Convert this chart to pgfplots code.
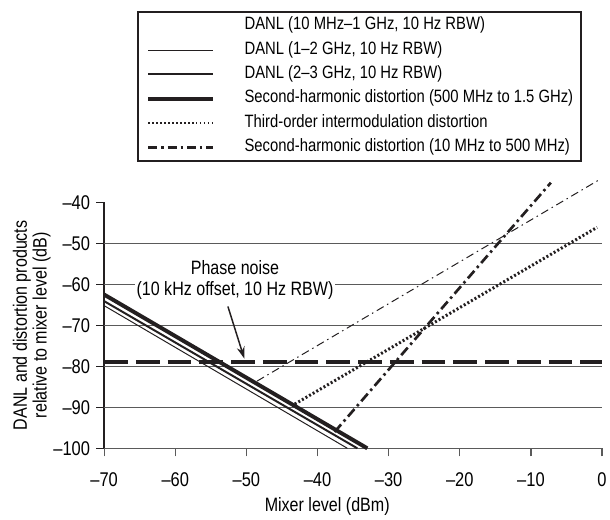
\documentclass[border=0pt]{standalone}
\usepackage{fontspec}
\setmainfont{Liberation Sans}[FakeStretch=0.83]
\usepackage{pgfplots}
\pgfplotsset{compat=1.18}
\usetikzlibrary{arrows.meta}
\definecolor{ink}{HTML}{231F20}
\definecolor{gridc}{HTML}{5A5A5A}
\begin{document}
\fontsize{18bp}{21bp}\selectfont
\begin{tikzpicture}[font=\fontsize{18bp}{21bp}\selectfont]
\useasboundingbox (-105bp,-72bp) rectangle (510bp,452bp);
\begin{axis}[
  scale only axis, width=502bp, height=248bp,
  xmin=-70, xmax=0, ymin=-100, ymax=-40,
  clip=false,
  axis x line*=bottom, axis y line*=left,
  axis line style={-},
  x axis line style={gridc, line width=1.3bp},
  y axis line style={ink, line width=2bp},
  xtick={-70,-60,...,0},
  xticklabels={–70,–60,–50,–40,–30,–20,–10,0},
  ytick={-100,-40},
  yticklabels={–100,–40},
  extra y ticks={-90,-80,-70,-60,-50},
  extra y tick labels={–90,–80,–70,–60,–50},
  extra y tick style={grid=major},
  major grid style={gridc, line width=1bp},
  tick align=outside,
  major tick length=8bp,
  x tick style={gridc, line width=1.3bp},
  y tick style={ink, line width=1.5bp},
  ticklabel style={font=\fontsize{20bp}{22bp}\selectfont},
  xticklabel style={yshift=-10bp},
  xlabel={Mixer level (dBm)},
  ylabel={DANL and distortion products\\relative to mixer level (dB)},
  xlabel style={at={(axis description cs:0.448,-0.235)}, anchor=center, font=\fontsize{19.5bp}{21bp}\selectfont},
  ylabel style={at={(axis description cs:-0.1454,0.5)}, anchor=center, align=center, font=\fontsize{19.5bp}{20bp}\selectfont},
  legend style={at={(axis description cs:0.96,1.778)}, anchor=north east,
    draw=ink, line width=2bp, inner xsep=8bp, inner ysep=6bp,
    cells={anchor=west}, column sep=30bp, row sep=8.5bp,
    nodes={inner sep=0bp, text height=12bp, text depth=4bp},
    font=\fontsize{18bp}{21bp}\selectfont},
  legend image code/.code={\draw[#1] (0bp,0bp) -- (65bp,0bp);},
]
% phase noise
\addplot[ink, line width=4.5bp, dash pattern=on 24bp off 8bp, forget plot] coordinates {(-70,-79.0) (0,-79.0)};
% DANL lines
\addplot[ink, line width=1bp, forget plot] coordinates {(-70,-65.2) (-35.8,-100)};
\addplot[ink, line width=2bp, forget plot] coordinates {(-70,-64.1) (-34.4,-100)};
\addplot[ink, line width=4bp, forget plot] coordinates {(-70,-62.5) (-33.0,-100)};
% distortion lines
\addplot[ink, line width=1bp, dash pattern=on 8bp off 4bp on 1.5bp off 4bp, forget plot] coordinates {(-48.5,-83.6) (-0.6,-34.7)};
\addplot[ink, line width=3bp, dash pattern=on 2bp off 2.2bp, forget plot] coordinates {(-43.2,-89.2) (-0.7,-46.1)};
\addplot[ink, line width=2.7bp, dash pattern=on 10bp off 4bp on 2.5bp off 4bp, forget plot] coordinates {(-37.6,-96.0) (-7.2,-35.2)};
% legend
\addlegendimage{empty legend}
\addlegendentry{DANL (10 MHz–1 GHz, 10 Hz RBW)}
\addlegendimage{ink, line width=1bp}
\addlegendentry{DANL (1–2 GHz, 10 Hz RBW)}
\addlegendimage{ink, line width=2bp}
\addlegendentry{DANL (2–3 GHz, 10 Hz RBW)}
\addlegendimage{ink, line width=4bp}
\addlegendentry{Second-harmonic distortion (500 MHz to 1.5 GHz)}
\addlegendimage{ink, line width=2bp, dash pattern=on 1.5bp off 2.5bp}
\addlegendentry{Third-order intermodulation distortion}
\addlegendimage{ink, line width=2.5bp, dash pattern=on 9bp off 4bp on 2.5bp off 4bp}
\addlegendentry{Second-harmonic distortion (10 MHz to 500 MHz)}
% annotation
\node[fill=white, inner xsep=2bp, inner ysep=0bp, align=center, font=\fontsize{19.5bp}{21bp}\selectfont] at (axis cs:-51.6,-58.9) {Phase noise\\(10 kHz offset, 10 Hz RBW)};
\draw[ink, line width=1.5bp, -{Stealth[length=12bp,width=8bp]}] (axis cs:-52.6,-65.4) -- (axis cs:-50.3,-78.1);
\end{axis}
\end{tikzpicture}
\end{document}
